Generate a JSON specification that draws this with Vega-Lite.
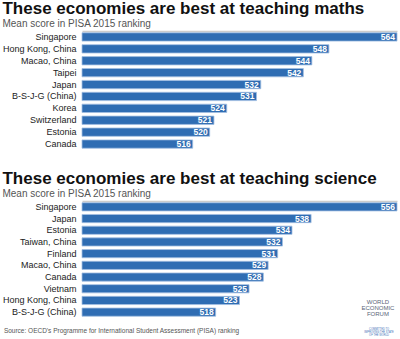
{
  "$schema": "https://vega.github.io/schema/vega-lite/v6.json",
  "padding": {"left": 2, "top": 0, "right": 4, "bottom": 0},
  "background": "white",
  "config": {
    "font": "Liberation Sans",
    "view": {"stroke": null},
    "title": {"anchor": "start", "frame": "bounds", "fontSize": 17, "fontWeight": "bold", "color": "#111", "subtitleFontSize": 10, "subtitleColor": "#555", "subtitlePadding": 1, "offset": 1},
    "axisY": {"domain": false, "ticks": false, "labelFontSize": 9, "labelColor": "#222", "labelPadding": 6, "title": null},
    "axisX": {"orient": "top", "domain": true, "domainColor": "#cccccc", "domainWidth": 1.5, "ticks": false, "labels": false, "grid": false, "title": null}
  },
  "datasets": {
    "maths": [
      {"economy": "Singapore", "score": 564},
      {"economy": "Hong Kong, China", "score": 548},
      {"economy": "Macao, China", "score": 544},
      {"economy": "Taipei", "score": 542},
      {"economy": "Japan", "score": 532},
      {"economy": "B-S-J-G (China)", "score": 531},
      {"economy": "Korea", "score": 524},
      {"economy": "Switzerland", "score": 521},
      {"economy": "Estonia", "score": 520},
      {"economy": "Canada", "score": 516}
    ],
    "science": [
      {"economy": "Singapore", "score": 556},
      {"economy": "Japan", "score": 538},
      {"economy": "Estonia", "score": 534},
      {"economy": "Taiwan, China", "score": 532},
      {"economy": "Finland", "score": 531},
      {"economy": "Macao, China", "score": 529},
      {"economy": "Canada", "score": 528},
      {"economy": "Vietnam", "score": 525},
      {"economy": "Hong Kong, China", "score": 523},
      {"economy": "B-S-J-G (China)", "score": 518}
    ]
  },
  "spacing": 4,
  "vconcat": [
    {
      "spacing": 20,
      "resolve": {"scale": {"x": "independent", "y": "independent"}},
      "vconcat": [
        {
          "title": {"text": "These economies are best at teaching maths", "subtitle": "Mean score in PISA 2015 ranking"},
          "data": {"name": "maths"},
          "width": 315,
          "height": 119,
          "encoding": {
            "y": {"field": "economy", "type": "nominal", "sort": "-x", "scale": {"paddingInner": 0.3, "paddingOuter": 0.15}},
            "x": {"field": "score", "type": "quantitative", "scale": {"domain": [490, 564], "zero": false, "nice": false}}
          },
          "layer": [
            {"mark": {"type": "bar", "fill": "#2f6db3", "stroke": "#a3bfe2", "strokeWidth": 0.8}, "encoding": {"x2": {"datum": 490}}},
            {"mark": {"type": "text", "align": "right", "dx": -2, "color": "white", "fontWeight": "bold", "fontSize": 8.5}, "encoding": {"text": {"field": "score"}}}
          ]
        },
        {
          "title": {"text": "These economies are best at teaching science", "subtitle": "Mean score in PISA 2015 ranking"},
          "data": {"name": "science"},
          "width": 315,
          "height": 117,
          "encoding": {
            "y": {"field": "economy", "type": "nominal", "sort": "-x", "scale": {"paddingInner": 0.3, "paddingOuter": 0.15}},
            "x": {"field": "score", "type": "quantitative", "scale": {"domain": [490, 556], "zero": false, "nice": false}}
          },
          "layer": [
            {"mark": {"type": "bar", "fill": "#2f6db3", "stroke": "#a3bfe2", "strokeWidth": 0.8}, "encoding": {"x2": {"datum": 490}}},
            {"mark": {"type": "text", "align": "right", "dx": -2, "color": "white", "fontWeight": "bold", "fontSize": 8.5}, "encoding": {"text": {"field": "score"}}},
            {
              "transform": [{"filter": "datum.economy === 'Hong Kong, China'"}],
              "mark": {"type": "text", "align": "center", "baseline": "middle", "lineBreak": "\n", "fontSize": 6, "lineHeight": 6, "letterSpacing": 1, "color": "#5a6478", "dy": 2},
              "encoding": {"x": {"datum": 552}, "text": {"value": "WORLD\nECONOMIC\nFORUM"}}
            }
          ]
        }
      ]
    },
    {
      "width": 315,
      "height": 18,
      "data": {"values": [{"source": "Source: OECD's Programme for International Student Assessment (PISA) ranking", "tag": "COMMITTED TO\nIMPROVING THE STATE\nOF THE WORLD"}]},
      "layer": [
        {
          "mark": {"type": "text", "align": "left", "baseline": "middle", "fontSize": 6.5, "color": "#555"},
          "encoding": {"x": {"datum": -0.248, "type": "quantitative", "scale": {"domain": [0, 1]}, "axis": null}, "text": {"field": "source"}}
        },
        {
          "mark": {"type": "text", "align": "center", "baseline": "middle", "lineBreak": "\n", "fontSize": 2.6, "lineHeight": 2.8, "color": "#3b6fb6", "dy": -2},
          "encoding": {"x": {"datum": 0.943, "type": "quantitative", "scale": {"domain": [0, 1]}, "axis": null}, "text": {"field": "tag"}}
        }
      ]
    }
  ]
}
